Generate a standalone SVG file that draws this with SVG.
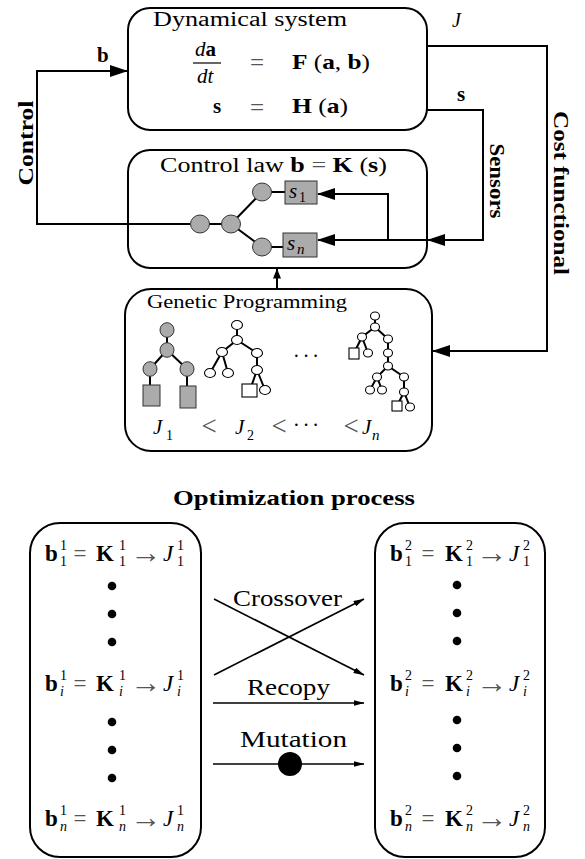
<svg xmlns="http://www.w3.org/2000/svg" width="585" height="859" viewBox="0 0 585 859" font-family="'Liberation Serif', 'DejaVu Serif', serif">
<defs>
<style>
text{font-family:"Liberation Serif","DejaVu Serif",serif;fill:#000}
.box{fill:none;stroke:#000;stroke-width:2}
.ln{fill:none;stroke:#000;stroke-width:2}
.thin{fill:none;stroke:#000;stroke-width:1.6}
.gnode{fill:#ababab;stroke:#333;stroke-width:1}
.wnode{fill:#fff;stroke:#000;stroke-width:1.1}
.b{font-weight:bold}
.i{font-style:italic}
.op{fill:#555}
.lt{fill:#555;font-size:27px}
.arr{fill:#555;font-size:31px}
.dot{fill:#000}
</style>
<marker id="ah" viewBox="0 0 18 12" refX="17" refY="6" markerWidth="18" markerHeight="12" markerUnits="userSpaceOnUse" orient="auto"><path d="M0,0 L18,6 L0,12 z" fill="#000"/></marker>
<marker id="am" viewBox="0 0 10 8" refX="9.5" refY="4" markerWidth="10" markerHeight="8" markerUnits="userSpaceOnUse" orient="auto"><path d="M0,0 L10,4 L0,8 z" fill="#000"/></marker>
<marker id="as" viewBox="0 0 11 6" refX="10.5" refY="3" markerWidth="11" markerHeight="6" markerUnits="userSpaceOnUse" orient="auto"><path d="M0,0 L11,3 L0,6 z" fill="#000"/></marker>
</defs>
<rect width="585" height="859" fill="#fff"/>

<g id="dynamical-system">
<rect class="box" x="128" y="8" width="299" height="122" rx="22"/>
<text x="153" y="26" font-size="20" textLength="194" lengthAdjust="spacingAndGlyphs">Dynamical system</text>
<text x="195" y="56" font-size="21"><tspan class="i">d</tspan><tspan class="b">a</tspan></text>
<line x1="193" y1="63" x2="221" y2="63" stroke="#000" stroke-width="1.2"/>
<text class="i" x="197" y="83" font-size="21">dt</text>
<text class="op" x="257" y="71" font-size="25" text-anchor="middle">=</text>
<text x="292" y="69" font-size="21" textLength="78" lengthAdjust="spacingAndGlyphs"><tspan class="b">F</tspan> (<tspan class="b">a</tspan>, <tspan class="b">b</tspan>)</text>
<text class="b" x="213" y="113" font-size="21">s</text>
<text class="op" x="257" y="116" font-size="25" text-anchor="middle">=</text>
<text x="292" y="113" font-size="21" textLength="56" lengthAdjust="spacingAndGlyphs"><tspan class="b">H</tspan> (<tspan class="b">a</tspan>)</text>
</g>

<g id="control-law">
<rect class="box" x="128" y="150" width="299" height="118" rx="22"/>
<text x="160" y="172" font-size="20" textLength="227" lengthAdjust="spacingAndGlyphs">Control law <tspan class="b">b</tspan> <tspan class="op">=</tspan> <tspan class="b">K</tspan> (<tspan class="b">s</tspan>)</text>
<path class="ln" d="M200,224 H231 L262,192 H285 M231,224 L262,247 H283"/>
<ellipse class="gnode" cx="200" cy="224" rx="9.5" ry="9"/>
<ellipse class="gnode" cx="231" cy="224" rx="9.5" ry="9"/>
<ellipse class="gnode" cx="262" cy="192" rx="9.5" ry="9"/>
<ellipse class="gnode" cx="262" cy="247" rx="9.5" ry="9"/>
<rect class="gnode" x="285" y="181" width="32" height="23"/>
<rect class="gnode" x="283" y="233" width="34" height="24"/>
<text class="i" x="289" y="198" font-size="21">s</text>
<text x="299" y="202" font-size="14">1</text>
<text class="i" x="287" y="250" font-size="21">s</text>
<text class="i" x="297" y="254" font-size="15">n</text>
</g>

<g id="genetic-programming">
<rect class="box" x="125" y="289" width="307" height="162" rx="26"/>
<text x="147" y="308" font-size="18" textLength="200" lengthAdjust="spacingAndGlyphs">Genetic Programming</text>
<path class="ln" d="M167,330 V350 L150,369 V395 M167,350 L187,369 V395"/>
<ellipse class="gnode" cx="167" cy="330" rx="7" ry="7.3"/>
<ellipse class="gnode" cx="167" cy="350" rx="7" ry="7.3"/>
<ellipse class="gnode" cx="150" cy="369" rx="7" ry="7.3"/>
<ellipse class="gnode" cx="187" cy="369" rx="7" ry="7.3"/>
<rect class="gnode" x="143" y="385" width="17" height="21"/>
<rect class="gnode" x="180" y="386" width="16" height="22"/>
<path class="ln" stroke-width="1.6" d="M237,325 V340 L222,352 L210,373 M222,352 L228,373 M237,340 L257,353 V370 L250,390 M257,370 L265,390"/>
<ellipse class="wnode" cx="237" cy="325" rx="5.5" ry="4.5"/>
<ellipse class="wnode" cx="237" cy="340" rx="5.5" ry="4.5"/>
<ellipse class="wnode" cx="222" cy="352" rx="5.5" ry="4.5"/>
<ellipse class="wnode" cx="257" cy="353" rx="5.5" ry="4.5"/>
<ellipse class="wnode" cx="210" cy="373" rx="5.5" ry="4.5"/>
<ellipse class="wnode" cx="228" cy="373" rx="5.5" ry="4.5"/>
<ellipse class="wnode" cx="257" cy="370" rx="5.5" ry="4.5"/>
<rect class="wnode" x="242" y="384" width="15" height="13"/>
<ellipse class="wnode" cx="265" cy="390" rx="5.5" ry="4.5"/>
<path class="ln" stroke-width="1.6" d="M375,316 V327 L362,337 L354,353 M362,337 L368,353 M375,327 L388,339 V366 L377,377 L370,390 M377,377 L382,390 M388,366 L404,377 V392 L397,406 M404,392 L410,407"/>
<ellipse class="wnode" cx="375" cy="316" rx="4.5" ry="4"/>
<ellipse class="wnode" cx="375" cy="327" rx="4.5" ry="4"/>
<ellipse class="wnode" cx="362" cy="337" rx="4.5" ry="4"/>
<ellipse class="wnode" cx="388" cy="339" rx="4.5" ry="4"/>
<rect class="wnode" x="349" y="348" width="10" height="11"/>
<ellipse class="wnode" cx="368" cy="353" rx="4.5" ry="4"/>
<ellipse class="wnode" cx="388" cy="353" rx="4.5" ry="4"/>
<ellipse class="wnode" cx="388" cy="366" rx="4.5" ry="4"/>
<ellipse class="wnode" cx="377" cy="377" rx="4.5" ry="4"/>
<ellipse class="wnode" cx="404" cy="377" rx="4.5" ry="4"/>
<ellipse class="wnode" cx="370" cy="390" rx="4.5" ry="4"/>
<ellipse class="wnode" cx="382" cy="390" rx="4.5" ry="4"/>
<ellipse class="wnode" cx="404" cy="392" rx="4.5" ry="4"/>
<rect class="wnode" x="392" y="401" width="10" height="10"/>
<ellipse class="wnode" cx="410" cy="407" rx="4.5" ry="4"/>
<text x="293" y="363" font-size="20" letter-spacing="3">···</text>
<text class="i" x="153" y="434" font-size="21">J</text>
<text x="166" y="440" font-size="14">1</text>
<text class="lt" x="209" y="435" text-anchor="middle">&lt;</text>
<text class="i" x="235" y="434" font-size="21">J</text>
<text x="247" y="440" font-size="14">2</text>
<text class="lt" x="279" y="435" text-anchor="middle">&lt;</text>
<text x="293" y="432" font-size="20" letter-spacing="3">···</text>
<text class="lt" x="351" y="435" text-anchor="middle">&lt;</text>
<text class="i" x="362" y="434" font-size="21">J</text>
<text class="i" x="372" y="440" font-size="15">n</text>
</g>

<text id="title" class="b" x="173" y="505" font-size="21" textLength="242" lengthAdjust="spacingAndGlyphs">Optimization process</text>

<g id="population-1">
<rect class="box" x="30" y="523" width="171" height="334" rx="30"/>
<g font-size="23">
<text class="b" x="45" y="561">b</text><text x="60" y="550" font-size="14">1</text><text x="60" y="566" font-size="14">1</text>
<text class="op" x="80" y="561" text-anchor="middle">=</text>
<text class="b" x="96" y="561">K</text><text x="119" y="550" font-size="14">1</text><text x="119" y="566" font-size="14">1</text>
<text class="arr" x="146" y="563" text-anchor="middle">→</text>
<text class="i" x="163" y="561">J</text><text x="177" y="550" font-size="14">1</text><text x="177" y="566" font-size="14">1</text>

<text class="b" x="45" y="691">b</text><text x="60" y="680" font-size="14">1</text><text class="i" x="60" y="696" font-size="14">i</text>
<text class="op" x="80" y="691" text-anchor="middle">=</text>
<text class="b" x="96" y="691">K</text><text x="119" y="680" font-size="14">1</text><text class="i" x="119" y="696" font-size="14">i</text>
<text class="arr" x="146" y="693" text-anchor="middle">→</text>
<text class="i" x="163" y="691">J</text><text x="177" y="680" font-size="14">1</text><text class="i" x="177" y="696" font-size="14">i</text>

<text class="b" x="45" y="826">b</text><text x="60" y="815" font-size="14">1</text><text class="i" x="60" y="831" font-size="14">n</text>
<text class="op" x="80" y="826" text-anchor="middle">=</text>
<text class="b" x="96" y="826">K</text><text x="119" y="815" font-size="14">1</text><text class="i" x="119" y="831" font-size="14">n</text>
<text class="arr" x="146" y="828" text-anchor="middle">→</text>
<text class="i" x="163" y="826">J</text><text x="177" y="815" font-size="14">1</text><text class="i" x="177" y="831" font-size="14">n</text>
</g>
<circle class="dot" cx="112" cy="586" r="4.3"/>
<circle class="dot" cx="112" cy="614" r="4.3"/>
<circle class="dot" cx="112" cy="642" r="4.3"/>
<circle class="dot" cx="112" cy="722" r="4.3"/>
<circle class="dot" cx="112" cy="750" r="4.3"/>
<circle class="dot" cx="112" cy="778" r="4.3"/>
</g>

<g id="population-2">
<rect class="box" x="375" y="523" width="170" height="334" rx="30"/>
<g font-size="23">
<text class="b" x="390" y="561">b</text><text x="405" y="550" font-size="14">2</text><text x="405" y="566" font-size="14">1</text>
<text class="op" x="428" y="561" text-anchor="middle">=</text>
<text class="b" x="445" y="561">K</text><text x="466" y="550" font-size="14">2</text><text x="466" y="566" font-size="14">1</text>
<text class="arr" x="492" y="563" text-anchor="middle">→</text>
<text class="i" x="509" y="561">J</text><text x="523" y="550" font-size="14">2</text><text x="523" y="566" font-size="14">1</text>

<text class="b" x="390" y="691">b</text><text x="405" y="680" font-size="14">2</text><text class="i" x="405" y="696" font-size="14">i</text>
<text class="op" x="428" y="691" text-anchor="middle">=</text>
<text class="b" x="445" y="691">K</text><text x="466" y="680" font-size="14">2</text><text class="i" x="466" y="696" font-size="14">i</text>
<text class="arr" x="492" y="693" text-anchor="middle">→</text>
<text class="i" x="509" y="691">J</text><text x="523" y="680" font-size="14">2</text><text class="i" x="523" y="696" font-size="14">i</text>

<text class="b" x="390" y="826">b</text><text x="405" y="815" font-size="14">2</text><text class="i" x="405" y="831" font-size="14">n</text>
<text class="op" x="428" y="826" text-anchor="middle">=</text>
<text class="b" x="445" y="826">K</text><text x="466" y="815" font-size="14">2</text><text class="i" x="466" y="831" font-size="14">n</text>
<text class="arr" x="492" y="828" text-anchor="middle">→</text>
<text class="i" x="509" y="826">J</text><text x="523" y="815" font-size="14">2</text><text class="i" x="523" y="831" font-size="14">n</text>
</g>
<circle class="dot" cx="457" cy="585" r="4.3"/>
<circle class="dot" cx="457" cy="613" r="4.3"/>
<circle class="dot" cx="457" cy="641" r="4.3"/>
<circle class="dot" cx="457" cy="720" r="4.3"/>
<circle class="dot" cx="457" cy="748" r="4.3"/>
<circle class="dot" cx="457" cy="776" r="4.3"/>
</g>

<g id="connectors">
<path class="ln" d="M190,224 H37 V71 H127" marker-end="url(#ah)"/>
<path class="ln" d="M427,46 H547 V351 H433" marker-end="url(#ah)"/>
<path class="ln" d="M427,110 H483 V240 H428" marker-end="url(#ah)"/>
<path class="ln" d="M428,240 H318" marker-end="url(#ah)"/>
<path class="ln" d="M388,240 V194 H318" marker-end="url(#ah)"/>
<path class="ln" d="M277,289 V269" marker-end="url(#am)"/>
<text class="b" x="97" y="62" font-size="21">b</text>
<text class="i" x="452" y="27" font-size="20">J</text>
<text class="b" x="457" y="101" font-size="21">s</text>
<text class="b" font-size="21" text-anchor="middle" textLength="85" lengthAdjust="spacingAndGlyphs" transform="translate(33,143) rotate(-90)">Control</text>
<text class="b" font-size="21" text-anchor="middle" textLength="75" lengthAdjust="spacingAndGlyphs" transform="translate(490,181) rotate(90)">Sensors</text>
<text class="b" font-size="21" text-anchor="middle" textLength="164" lengthAdjust="spacingAndGlyphs" transform="translate(554,193) rotate(90)">Cost functional</text>
<path class="thin" d="M214,599 L364,675" marker-end="url(#as)"/>
<path class="thin" d="M214,675 L364,599" marker-end="url(#as)"/>
<path class="thin" d="M213,703 H364" marker-end="url(#as)"/>
<path class="thin" d="M213,764 H364" marker-end="url(#as)"/>
<circle cx="290" cy="764" r="12" fill="#000"/>
<text x="233" y="606" font-size="23" textLength="109" lengthAdjust="spacingAndGlyphs">Crossover</text>
<text x="247" y="695" font-size="23" textLength="83" lengthAdjust="spacingAndGlyphs">Recopy</text>
<text x="240" y="747" font-size="23" textLength="107" lengthAdjust="spacingAndGlyphs">Mutation</text>
</g>
</svg>
